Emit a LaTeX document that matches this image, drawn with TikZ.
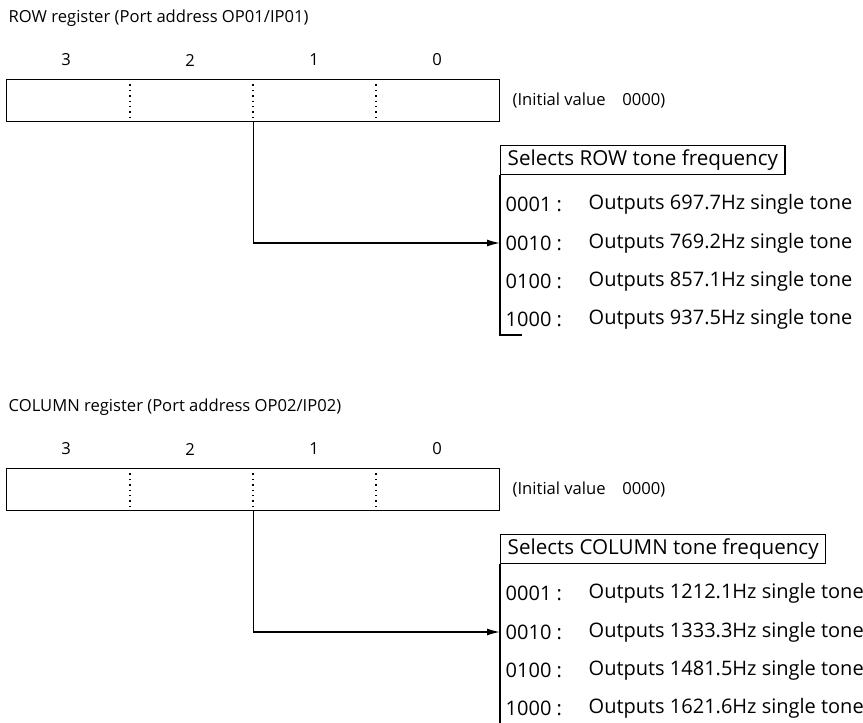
\documentclass[tikz,border=0pt]{standalone}
\usepackage{fontspec}
\setmainfont{Open Sans}
\usetikzlibrary{positioning,arrows.meta}

\tikzset{
	lbl/.style={font=\fontsize{10}{12}\selectfont, inner sep=0pt},
	smalllbl/.style={font=\fontsize{8.3}{10}\selectfont, inner sep=0pt},
	regbox/.style={draw, anchor=north west, minimum width=246.5pt, minimum height=21pt, inner sep=0pt},
	selbox/.style={draw, anchor=north west, minimum height=14.5pt, inner xsep=3.5pt, inner ysep=0pt, font=\fontsize{10.3}{12}\selectfont},
	tip/.style={-{Latex[length=6.5pt, width=3.5pt]}}
}

\begin{document}
\begin{tikzpicture}[x=0.5pt, y=-0.5pt, line width=0.7pt]
	\useasboundingbox (0,0) rectangle (863,723);

	\node[smalllbl, anchor=west] (rowtitle) at (8,18) {ROW register (Port address OP01/IP01)};
	\foreach \b/\x in {3/66, 2/190, 1/314, 0/437}
		\node[smalllbl] (rowbit\b) at (\x,60) {\b};
	\node[regbox] (rowreg) at (6,79) {};
	\foreach \x in {130,253,376}
		\draw [dotted] (\x,79) -- (\x,121);
	\node[smalllbl, anchor=west] (rowinit) at (512,101) {(Initial value\quad 0000)};

	\node[selbox] (rowsel) at (500,145) {Selects ROW tone frequency};
	\foreach \c/\f/\y in {0001/697.7/204, 0010/769.2/243, 0100/857.1/281, 1000/937.5/319} {
		\node[lbl, anchor=west] (row\c) at (505,\y) {\c\ :};
		\node[lbl, anchor=west] (rowout\c) at (588,\y) {Outputs \f Hz single tone};
	}
	\coordinate (rowend) at (522,335);
	\coordinate (rowin) at (rowsel.south west |- row0010.west);
	\draw (rowsel.south west) |- (rowend);
	\draw [tip] (rowreg.south) |- (rowin);

	\node[smalllbl, anchor=west] (coltitle) at (8,407) {COLUMN register (Port address OP02/IP02)};
	\foreach \b/\x in {3/66, 2/190, 1/314, 0/437}
		\node[smalllbl] (colbit\b) at (\x,449) {\b};
	\node[regbox] (colreg) at (6,468) {};
	\foreach \x in {130,253,376}
		\draw [dotted] (\x,468) -- (\x,510);
	\node[smalllbl, anchor=west] (colinit) at (512,490) {(Initial value\quad 0000)};

	\node[selbox] (colsel) at (500,534) {Selects COLUMN tone frequency};
	\foreach \c/\f/\y in {0001/1212.1/593, 0010/1333.3/632, 0100/1481.5/670, 1000/1621.6/708} {
		\node[lbl, anchor=west] (col\c) at (505,\y) {\c\ :};
		\node[lbl, anchor=west] (colout\c) at (588,\y) {Outputs \f Hz single tone};
	}
	\coordinate (colend) at (500,730);
	\coordinate (colin) at (colsel.south west |- col0010.west);
	\draw (colsel.south west) -- (colend);
	\draw [tip] (colreg.south) |- (colin);
\end{tikzpicture}
\end{document}
